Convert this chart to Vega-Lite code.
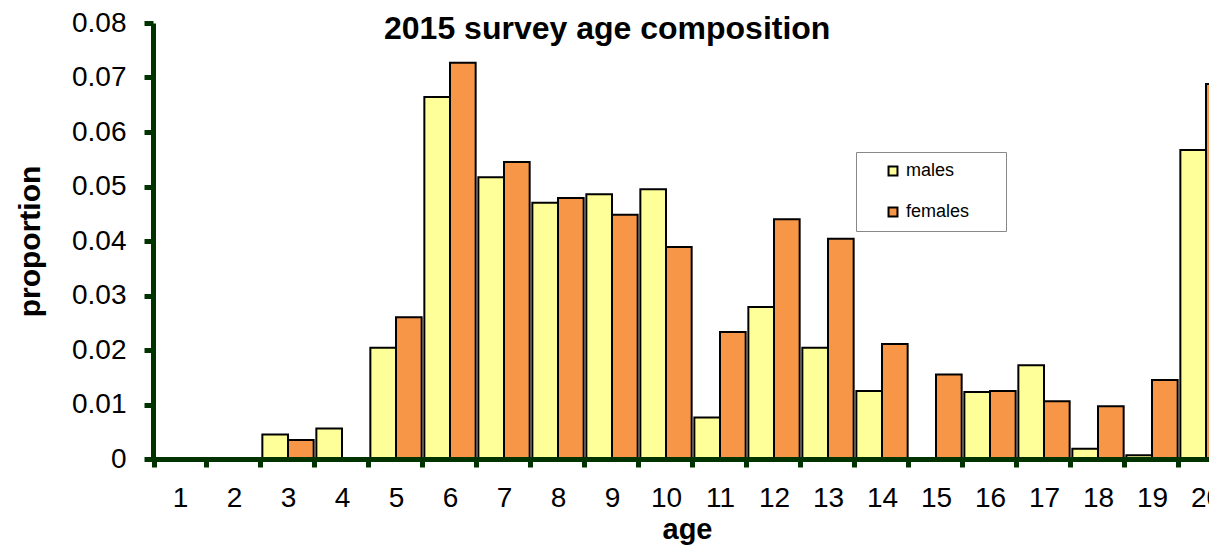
{
  "$schema": "https://vega.github.io/schema/vega-lite/v6.json",
  "autosize": {"type": "none"},
  "padding": {"left": 153, "top": 23, "right": 0, "bottom": 87},
  "width": 1056,
  "height": 436,
  "background": "white",
  "title": {
    "text": "2015 survey age composition",
    "font": "Liberation Sans",
    "fontSize": 32,
    "fontWeight": "bold",
    "color": "black",
    "anchor": "start",
    "frame": "group",
    "baseline": "alphabetic",
    "offset": 0,
    "dx": 231,
    "dy": 62
  },
  "data": {
    "values": [
      {"age": 1, "sex": "males", "proportion": 0},
      {"age": 1, "sex": "females", "proportion": 0},
      {"age": 2, "sex": "males", "proportion": 0},
      {"age": 2, "sex": "females", "proportion": 0},
      {"age": 3, "sex": "males", "proportion": 0.0045},
      {"age": 3, "sex": "females", "proportion": 0.0035},
      {"age": 4, "sex": "males", "proportion": 0.0056},
      {"age": 4, "sex": "females", "proportion": 0},
      {"age": 5, "sex": "males", "proportion": 0.0204},
      {"age": 5, "sex": "females", "proportion": 0.026},
      {"age": 6, "sex": "males", "proportion": 0.0664},
      {"age": 6, "sex": "females", "proportion": 0.0727},
      {"age": 7, "sex": "males", "proportion": 0.0517},
      {"age": 7, "sex": "females", "proportion": 0.0545},
      {"age": 8, "sex": "males", "proportion": 0.047},
      {"age": 8, "sex": "females", "proportion": 0.0479},
      {"age": 9, "sex": "males", "proportion": 0.0486},
      {"age": 9, "sex": "females", "proportion": 0.0448},
      {"age": 10, "sex": "males", "proportion": 0.0495},
      {"age": 10, "sex": "females", "proportion": 0.0389},
      {"age": 11, "sex": "males", "proportion": 0.0076},
      {"age": 11, "sex": "females", "proportion": 0.0233},
      {"age": 12, "sex": "males", "proportion": 0.0279},
      {"age": 12, "sex": "females", "proportion": 0.044},
      {"age": 13, "sex": "males", "proportion": 0.0204},
      {"age": 13, "sex": "females", "proportion": 0.0404},
      {"age": 14, "sex": "males", "proportion": 0.0125},
      {"age": 14, "sex": "females", "proportion": 0.0211},
      {"age": 15, "sex": "males", "proportion": 0},
      {"age": 15, "sex": "females", "proportion": 0.0155},
      {"age": 16, "sex": "males", "proportion": 0.0123},
      {"age": 16, "sex": "females", "proportion": 0.0125},
      {"age": 17, "sex": "males", "proportion": 0.0172},
      {"age": 17, "sex": "females", "proportion": 0.0106},
      {"age": 18, "sex": "males", "proportion": 0.0019},
      {"age": 18, "sex": "females", "proportion": 0.0097},
      {"age": 19, "sex": "males", "proportion": 0.0007},
      {"age": 19, "sex": "females", "proportion": 0.0145},
      {"age": 20, "sex": "males", "proportion": 0.0567},
      {"age": 20, "sex": "females", "proportion": 0.0688}
    ]
  },
  "mark": {"type": "bar", "stroke": "black", "strokeWidth": 2},
  "encoding": {
    "x": {
      "field": "age",
      "type": "ordinal",
      "scale": {"range": [0, 1080], "paddingInner": 0.05, "paddingOuter": 0.025},
      "axis": {
        "title": "age",
        "titleFont": "Liberation Sans",
        "titleFontSize": 29,
        "titleFontWeight": "bold",
        "titleColor": "black",
        "titleX": 534,
        "titleY": 79,
        "titleBaseline": "alphabetic",
        "labelAngle": 0,
        "labelFont": "Liberation Sans",
        "labelFontSize": 28,
        "labelColor": "black",
        "labelBaseline": "alphabetic",
        "labelPadding": 39,
        "tickBand": "extent",
        "tickSize": 8,
        "tickWidth": 5,
        "tickColor": "#003300",
        "domainColor": "#003300",
        "domainWidth": 5,
        "grid": false,
        "zindex": 1
      }
    },
    "xOffset": {
      "field": "sex",
      "type": "nominal",
      "sort": ["males", "females"],
      "scale": {"paddingInner": 0, "paddingOuter": 0}
    },
    "y": {
      "field": "proportion",
      "type": "quantitative",
      "scale": {"domain": [0, 0.08], "nice": false},
      "axis": {
        "title": "proportion",
        "titleFont": "Liberation Sans",
        "titleFontSize": 30,
        "titleFontWeight": "bold",
        "titleColor": "black",
        "titleX": -123,
        "titleY": 218,
        "titleBaseline": "middle",
        "titleAngle": -90,
        "values": [0, 0.01, 0.02, 0.03, 0.04, 0.05, 0.06, 0.07, 0.08],
        "format": "~g",
        "labelFont": "Liberation Sans",
        "labelFontSize": 28,
        "labelColor": "black",
        "labelPadding": 18,
        "tickSize": 9,
        "tickWidth": 5,
        "tickColor": "#003300",
        "domainColor": "#003300",
        "domainWidth": 5,
        "grid": false,
        "zindex": 1
      }
    },
    "fill": {
      "field": "sex",
      "type": "nominal",
      "sort": ["males", "females"],
      "scale": {"domain": ["males", "females"], "range": ["#FFFF99", "#F79646"]},
      "legend": {
        "title": null,
        "orient": "none",
        "legendX": 703,
        "legendY": 129,
        "direction": "vertical",
        "padding": 10,
        "rowPadding": 23,
        "symbolOffset": 18,
        "symbolType": "square",
        "symbolSize": 80,
        "symbolStrokeColor": "black",
        "symbolStrokeWidth": 2,
        "labelFont": "Liberation Sans",
        "labelFontSize": 18,
        "labelColor": "black",
        "labelOffset": 4,
        "labelExpr": "datum.label + '\u2800\u2800'",
        "strokeColor": "#888888",
        "fillColor": "white"
      }
    }
  },
  "config": {
    "view": {"stroke": null},
    "axis": {"labelFlush": false}
  }
}
